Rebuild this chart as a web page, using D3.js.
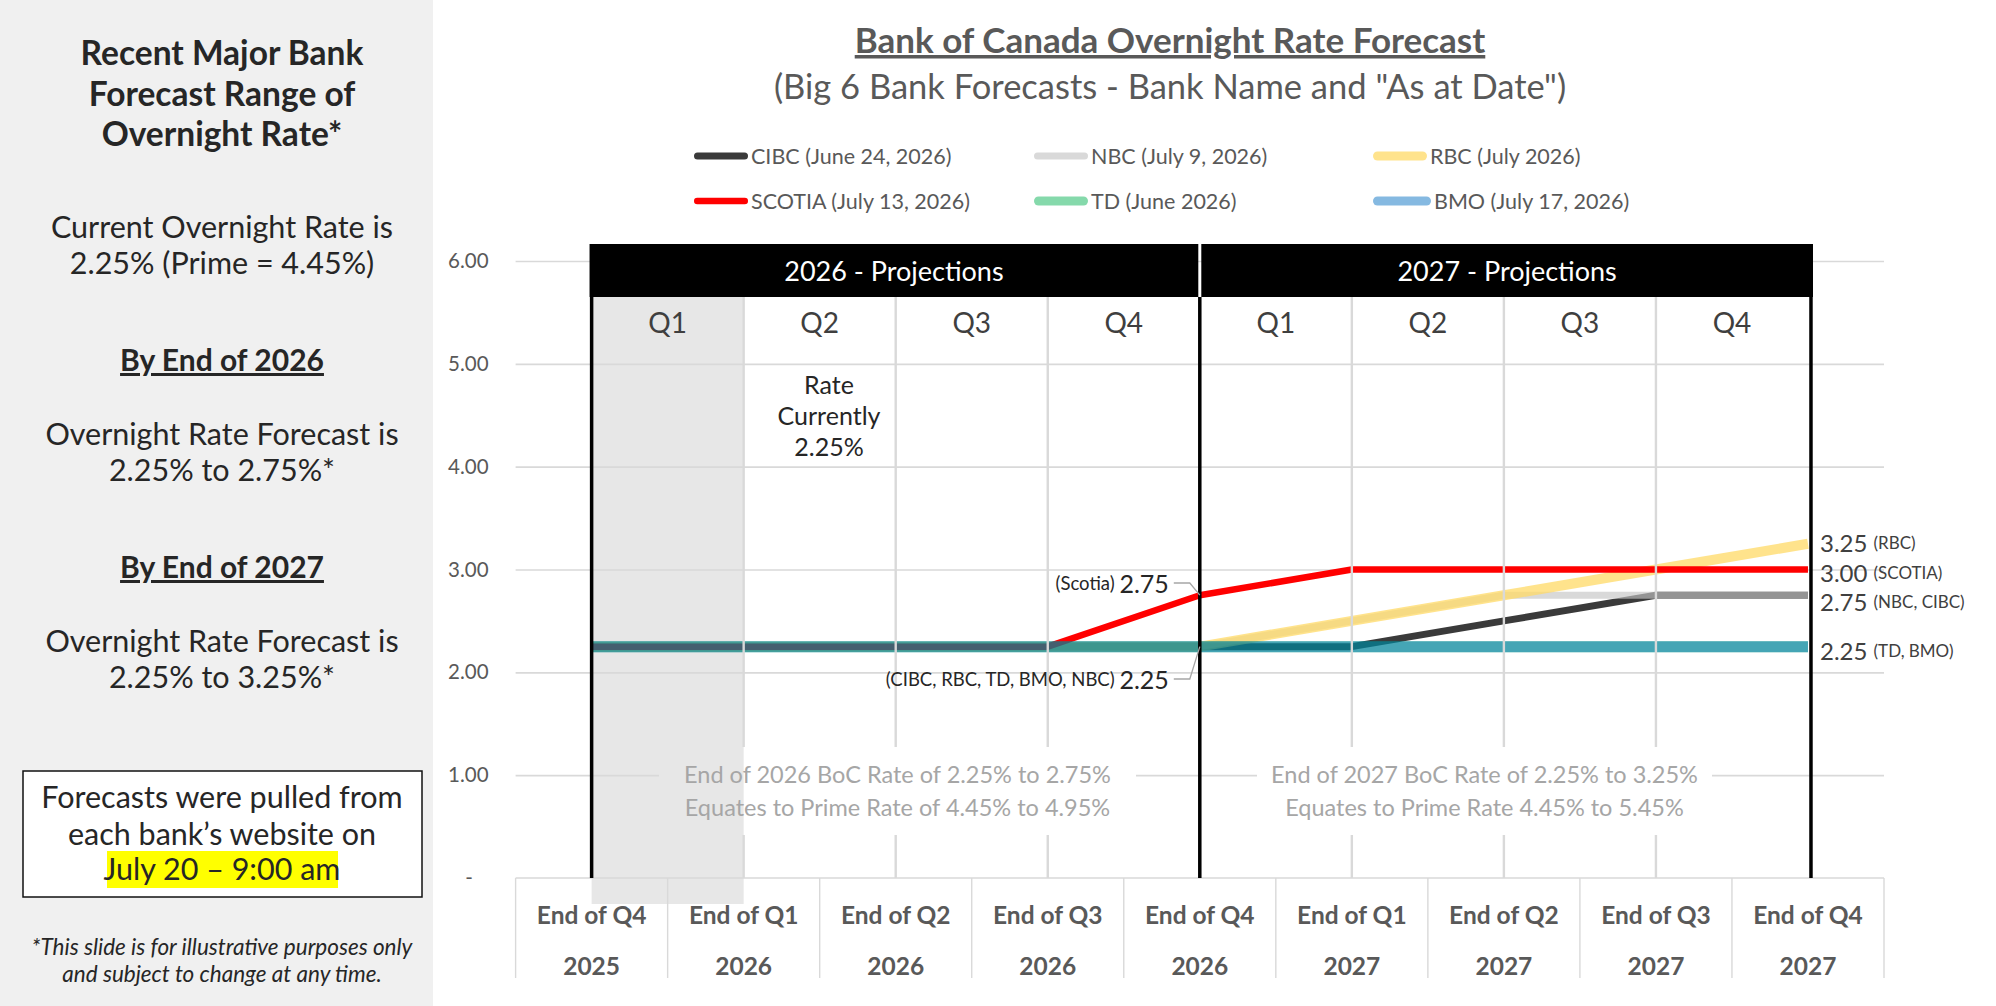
<!DOCTYPE html>
<html><head><meta charset="utf-8">
<script src="https://cdn.jsdelivr.net/npm/d3@7"></script>
<style>body{margin:0;background:#fff;} svg{display:block;}</style>
</head><body>
<svg id="c" width="1996" height="1006"></svg>
<script>
// ---------------- DATA ----------------
const categories = ["Q4 2025","Q1 2026","Q2 2026","Q3 2026","Q4 2026","Q1 2027","Q2 2027","Q3 2027","Q4 2027"];
const xQuarterLabels = ["End of Q4","End of Q1","End of Q2","End of Q3","End of Q4","End of Q1","End of Q2","End of Q3","End of Q4"];
const xYearLabels = ["2025","2026","2026","2026","2026","2027","2027","2027","2027"];

const cibc   = [2.25,2.25,2.25,2.25,2.25,2.25,2.50,2.75,2.75];
const nbc    = [2.25,2.25,2.25,2.25,2.25,2.50,2.75,2.75,2.75];
const rbc    = [2.25,2.25,2.25,2.25,2.25,2.50,2.75,3.00,3.25];
const scotia = [2.25,2.25,2.25,2.25,2.75,3.00,3.00,3.00,3.00];
const td     = [2.25,2.25,2.25,2.25,2.25,2.25,2.25,2.25,2.25];
const bmo    = [2.25,2.25,2.25,2.25,2.25,2.25,2.25,2.25,2.25];

const seriesNames = ["CIBC (June 24, 2026)","NBC (July 9, 2026)","RBC (July 2026)","SCOTIA (July 13, 2026)","TD (June 2026)","BMO (July 17, 2026)"];
const seriesValues = [cibc, nbc, rbc, scotia, td, bmo];

const yTicks = [0,1,2,3,4,5,6];
const projectionYears = ["2026 - Projections","2027 - Projections"];
const quarterLabels = ["Q1","Q2","Q3","Q4","Q1","Q2","Q3","Q4"];

const endValues = [3.25, 3.00, 2.75, 2.25];
const endNames = ["(RBC)","(SCOTIA)","(NBC, CIBC)","(TD, BMO)"];

const calloutValues = [2.75, 2.25];
const calloutNames = ["(Scotia)","(CIBC, RBC, TD, BMO, NBC)"];

const rateNowLines = ["Rate","Currently","2.25%"];
const rangeNotes2026 = ["End of 2026 BoC Rate of 2.25% to 2.75%","Equates to Prime Rate of 4.45% to 4.95%"];
const rangeNotes2027 = ["End of 2027 BoC Rate of 2.25% to 3.25%","Equates to Prime Rate 4.45% to 5.45%"];

// ---------------- STYLES ----------------
const seriesStyles = [
  {color:"#3a3a3a", op:1,    w:7},
  {color:"#c4c4c4", op:0.65, w:7},
  {color:"#ffd966", op:0.75, w:10},
  {color:"#ff0000", op:1,    w:6.5},
  {color:"#00b050", op:0.48, w:11},
  {color:"#006cc0", op:0.48, w:11}
];
const F = "Lato, 'Open Sans', sans-serif";
const svg = d3.select("#c");

// ---------------- LEFT PANEL ----------------
svg.append("rect").attr("x",0).attr("y",0).attr("width",433).attr("height",1006).attr("fill","#f0f0f0");
const LX = 222;
function lt(txt, y, size, opts={}) {
  const t = svg.append("text").attr("x", opts.x || LX).attr("y", y).attr("text-anchor","middle")
    .attr("font-family", F).attr("font-size", size).attr("fill", "#262626").text(txt);
  if (opts.bold) t.attr("font-weight","bold");
  if (opts.italic) t.attr("font-style","italic");
  if (opts.underline) t.attr("text-decoration","underline");
  return t;
}
lt("Recent Major Bank", 65, 33.5, {bold:true});
lt("Forecast Range of", 106, 33.5, {bold:true});
lt("Overnight Rate*", 146, 33.5, {bold:true});
lt("Current Overnight Rate is", 238, 30.5);
lt("2.25% (Prime = 4.45%)", 274, 30.5);
lt("By End of 2026", 371, 30, {bold:true, underline:true});
lt("Overnight Rate Forecast is", 445, 30.5);
lt("2.25% to 2.75%*", 481, 30.5);
lt("By End of 2027", 578, 30, {bold:true, underline:true});
lt("Overnight Rate Forecast is", 652, 30.5);
lt("2.25% to 3.25%*", 688, 30.5);
svg.append("rect").attr("x",23).attr("y",771).attr("width",399).attr("height",126)
  .attr("fill","#fff").attr("stroke","#111").attr("stroke-width",1.5);
svg.append("rect").attr("x",107).attr("y",851).attr("width",231).attr("height",37).attr("fill","#ffff00");
lt("Forecasts were pulled from", 808, 30.5);
lt("each bank\u2019s website on", 845, 30.5);
lt("July 20 \u2013 9:00 am", 880, 30.5);
lt("*This slide is for illustrative purposes only", 955, 22.5, {italic:true});
lt("and subject to change at any time.", 982, 22.5, {italic:true});

// ---------------- SCALES ----------------
const xBand = d3.scaleBand().domain(categories).range([515.6, 1884]).padding(0);
const xc = c => xBand(c) + xBand.bandwidth()/2;
const xi = i => xc(categories[i]);
const y = d3.scaleLinear().domain([0,6]).range([878, 261]);

const plotTop = 297, headTop = 244;

// ---------------- TITLES ----------------
svg.append("text").attr("x",1170).attr("y",53).attr("text-anchor","middle")
  .attr("font-family",F).attr("font-weight","bold").attr("font-size",35).attr("fill","#595959")
  .attr("text-decoration","underline").text("Bank of Canada Overnight Rate Forecast");
svg.append("text").attr("x",1170).attr("y",99).attr("text-anchor","middle")
  .attr("font-family",F).attr("font-size",34.5).attr("fill","#595959")
  .text("(Big 6 Bank Forecasts - Bank Name and \"As at Date\")");

// ---------------- LEGEND ----------------
const legX = [694, 1034, 1373];
const legY = [156, 201];
seriesNames.forEach((name, i) => {
  const col = i % 3, row = Math.floor(i / 3);
  const st = seriesStyles[i];
  const x0 = legX[col], yy = legY[row];
  const len = (i === 5) ? 58 : 54;
  const lw = Math.min(st.w, 9);
  svg.append("line").attr("x1", x0 + lw/2).attr("x2", x0 + len - lw/2).attr("y1", yy).attr("y2", yy)
    .attr("stroke", st.color).attr("stroke-opacity", st.op).attr("stroke-width", lw).attr("stroke-linecap","round");
  svg.append("text").attr("x", x0 + len + 3).attr("y", yy).attr("dominant-baseline","central")
    .attr("font-family",F).attr("font-size",21.5).attr("fill","#595959").text(name);
});

// ---------------- SHADE (Q1 2026) ----------------
const shadeX0 = xi(0), shadeX1 = xi(1), shadeY0 = plotTop, shadeY1 = 904;
svg.append("rect").attr("x",shadeX0).attr("y",shadeY0).attr("width",shadeX1-shadeX0).attr("height",shadeY1-shadeY0)
  .attr("fill","#e7e7e7");

// ---------------- Y AXIS + GRID ----------------
const gridG = svg.append("g").attr("transform","translate(515.6,0)")
  .call(d3.axisLeft(y).tickValues(yTicks.filter(v => v > 0)).tickSize(-(1884-515.6)).tickFormat(""));
gridG.select(".domain").remove();
gridG.selectAll(".tick line").attr("stroke","#d9d9d9").attr("stroke-width",1.6);

const yAxisG = svg.append("g").attr("transform","translate(515.6,0)")
  .call(d3.axisLeft(y).tickValues(yTicks).tickSize(0).tickPadding(27)
    .tickFormat(v => v === 0 ? "-\u00A0\u00A0\u00A0" : v.toFixed(2)));
yAxisG.select(".domain").remove();
yAxisG.selectAll("text").attr("font-family",F).attr("font-size",20.5).attr("fill","#595959");

// x axis table line
svg.append("line").attr("x1",515.6).attr("x2",1884).attr("y1",y(0)).attr("y2",y(0))
  .attr("stroke","#d9d9d9").attr("stroke-width",1.6);

// ---------------- SERIES ----------------
const line = d3.line().x((d,i) => xi(i)).y(d => y(d));
seriesValues.forEach((vals, i) => {
  const st = seriesStyles[i];
  svg.append("path").datum(vals).attr("d", line).attr("fill","none")
    .attr("stroke", st.color).attr("stroke-opacity", st.op).attr("stroke-width", st.w)
    .attr("stroke-linejoin","round");
});

// ---------------- VERTICAL GRIDLINES (on top of series) ----------------
[1,2,3,5,6,7].forEach(i => {
  svg.append("line").attr("x1",xi(i)).attr("x2",xi(i)).attr("y1",plotTop).attr("y2",y(0))
    .attr("stroke","#d9d9d9").attr("stroke-width",2.4);
});

// ---------------- RANGE NOTE BOXES ----------------
const boxes = [
  {x0:659, x1:1136, lines:rangeNotes2026},
  {x0:1257, x1:1712, lines:rangeNotes2027}
];
const boxY0 = 747, boxY1 = 835;
boxes.forEach(b => {
  svg.append("rect").attr("x",b.x0).attr("y",boxY0).attr("width",b.x1-b.x0).attr("height",boxY1-boxY0).attr("fill","#fff");
  const ix0 = Math.max(b.x0, shadeX0), ix1 = Math.min(b.x1, shadeX1);
  if (ix1 > ix0) svg.append("rect").attr("x",ix0).attr("y",boxY0).attr("width",ix1-ix0).attr("height",boxY1-boxY0).attr("fill","#e7e7e7");
  b.lines.forEach((t, k) => {
    svg.append("text").attr("x",(b.x0+b.x1)/2).attr("y",774 + k*33).attr("dominant-baseline","central")
      .attr("text-anchor","middle").attr("font-family",F).attr("font-size",23.5).attr("fill","#a6a6a6").text(t);
  });
});

// ---------------- X AXIS TABLE ----------------
const edges = categories.map(c => xBand(c)).concat([xBand(categories[categories.length-1]) + xBand.bandwidth()]);
edges.forEach(ex => {
  svg.append("line").attr("x1",ex).attr("x2",ex).attr("y1",y(0)).attr("y2",978)
    .attr("stroke","#d9d9d9").attr("stroke-width",1.4);
});
const xAxisG = svg.append("g").attr("transform",`translate(0,${y(0)})`)
  .call(d3.axisBottom(xBand).tickSize(0).tickFormat(""));
xAxisG.select(".domain").remove();
xAxisG.selectAll(".tick").each(function(d, i) {
  const g = d3.select(this);
  g.append("text").attr("y", 914 - y(0)).attr("dominant-baseline","central").attr("text-anchor","middle")
    .attr("font-family",F).attr("font-weight","bold").attr("font-size",24.5).attr("fill","#595959").text(xQuarterLabels[i]);
  g.append("text").attr("y", 965 - y(0)).attr("dominant-baseline","central").attr("text-anchor","middle")
    .attr("font-family",F).attr("font-weight","bold").attr("font-size",24.5).attr("fill","#595959").text(xYearLabels[i]);
});

// ---------------- HEADER ----------------
const headSpans = [[xi(0)-2, xi(4)-1.5], [xi(4)+1.5, xi(8)+5]];
headSpans.forEach((s, k) => {
  svg.append("rect").attr("x",s[0]).attr("y",headTop).attr("width",s[1]-s[0]).attr("height",plotTop-headTop).attr("fill","#000");
  svg.append("text").attr("x",(s[0]+s[1])/2).attr("y",(headTop+plotTop)/2).attr("dominant-baseline","central")
    .attr("text-anchor","middle").attr("font-family",F).attr("font-size",27).attr("fill","#fff").text(projectionYears[k]);
});
quarterLabels.forEach((q, k) => {
  svg.append("text").attr("x",(xi(k)+xi(k+1))/2).attr("y",322).attr("dominant-baseline","central")
    .attr("text-anchor","middle").attr("font-family",F).attr("font-size",28).attr("fill","#3f3f3f").text(q);
});

// black borders
[0,4,8].forEach(i => {
  svg.append("line").attr("x1",xi(i) + (i===8?3:0)).attr("x2",xi(i) + (i===8?3:0)).attr("y1", i===4 ? plotTop : headTop).attr("y2",y(0))
    .attr("stroke","#000").attr("stroke-width",3.5);
});

// ---------------- RATE CURRENTLY ----------------
rateNowLines.forEach((t, k) => {
  svg.append("text").attr("x",829).attr("y",384 + k*31).attr("dominant-baseline","central")
    .attr("text-anchor","middle").attr("font-family",F).attr("font-size",25).attr("fill","#262626").text(t);
});

// ---------------- CALLOUTS ----------------
const calloutTextY = [583, 679];
calloutValues.forEach((v, k) => {
  const px = xi(4), py = y(v), ty = calloutTextY[k];
  const t = svg.append("text").attr("x", px - 31).attr("y", ty).attr("dominant-baseline","central")
    .attr("text-anchor","end").attr("font-family",F).attr("fill","#262626");
  t.append("tspan").attr("font-size",18.5).text(calloutNames[k] + " ");
  t.append("tspan").attr("font-size",25).text(v.toFixed(2));
  svg.append("path").attr("d", `M${px-26},${ty} L${px-10},${ty} L${px},${py}`)
    .attr("fill","none").attr("stroke","#a6a6a6").attr("stroke-width",1.3);
});

// ---------------- END LABELS ----------------
// small vertical nudges keep the tightly stacked labels from colliding
const endNudge = [-2, 2, 6, 3];
endValues.forEach((v, k) => {
  const t = svg.append("text").attr("x", 1820).attr("y", y(v) + endNudge[k]).attr("dominant-baseline","central")
    .attr("font-family",F).attr("fill","#404040");
  t.append("tspan").attr("font-size",24).text(v.toFixed(2) + " ");
  t.append("tspan").attr("font-size",17).text(endNames[k]);
});
</script>
</body></html>
